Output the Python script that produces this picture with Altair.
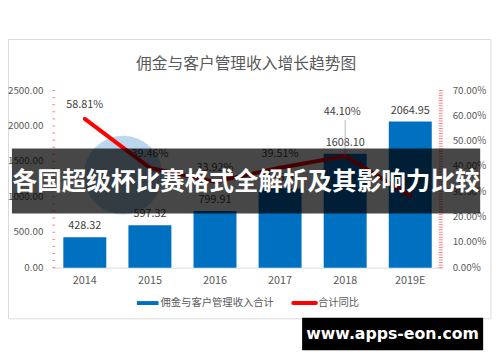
import altair as alt
import pandas as pd

# ---- data ----
years = ["2014", "2015", "2016", "2017", "2018", "2019E"]
revenue = [428.32, 597.32, 799.91, 1115.95, 1608.10, 2064.95]
growth = [0.5881, 0.3946, 0.3392, 0.3951, 0.4410, 0.2841]
left_labels = [0, 500, 1000, 1500, 2000, 2500]
left_minor = list(range(0, 2501, 100))
right_labels = [0, 0.1, 0.2, 0.3, 0.4, 0.5, 0.6, 0.7]
right_minor = [i / 100 for i in range(0, 71)]

title_text = "佣金与客户管理收入增长趋势图"
bar_name = "佣金与客户管理收入合计"
line_name = "合计同比"
banner_text = "各国超级杯比赛格式全解析及其影响力比较"
site_text = "www.apps-eon.com"

df = pd.DataFrame({"year": years, "revenue": revenue, "growth": growth})
df_lminor = pd.DataFrame({"revenue": left_minor})
df_rminor = pd.DataFrame({"growth": right_minor})
df_llab = pd.DataFrame({"revenue": left_labels})
df_rlab = pd.DataFrame({"growth": right_labels})
one = pd.DataFrame({"k": [0]})

FONT = "Noto Sans CJK SC"
GRAY = "#595959"
AXRED = "#FF8080"

x_enc = alt.X(
    "year:N", sort=years,
    scale=alt.Scale(paddingInner=0.34, paddingOuter=0.17),
    axis=alt.Axis(title=None, labelAngle=0, ticks=False, domainColor="#D9D9D9",
                  labelColor=GRAY, labelFontSize=11, labelPadding=7, labelFont=FONT),
)

left_axis = alt.Axis(
    title=None, orient="left", labels=False, ticks=False, grid=False,
    domainColor=AXRED,
)
right_axis = alt.Axis(
    title=None, orient="right", labels=False, ticks=False, grid=False,
    domainColor=AXRED,
)

base = alt.Chart(df)

bars = base.mark_bar(color="#0070C0").encode(
    x=x_enc,
    y=alt.Y("revenue:Q", scale=alt.Scale(domain=[0, 2500], nice=False), axis=left_axis),
)
bar_text = base.mark_text(dy=-11, fontSize=11, color="#404040", font=FONT, baseline="middle").encode(
    x=x_enc, y=alt.Y("revenue:Q", axis=None), text=alt.Text("revenue:Q", format=".2f")
)
lminor = alt.Chart(df_lminor).mark_rule(color=AXRED, strokeWidth=1).encode(
    y=alt.Y("revenue:Q", axis=None), x=alt.value(0), x2=alt.value(3)
)
llab = alt.Chart(df_llab).mark_text(fontSize=10, color=GRAY, font=FONT, align="right", baseline="middle").encode(
    y=alt.Y("revenue:Q", axis=None), x=alt.value(-9), text=alt.Text("revenue:Q", format=".2f")
)
layer_a = alt.layer(bars, bar_text, lminor, llab)

line = base.mark_line(color="#FF0000", strokeWidth=4, strokeCap="round").encode(
    x=x_enc,
    y=alt.Y("growth:Q", scale=alt.Scale(domain=[0, 0.7], nice=False), axis=right_axis),
)
leader = base.transform_filter("datum.year == '2018'").mark_rule(color="#A6A6A6", strokeWidth=0.8).encode(
    x=x_enc, y=alt.Y("growth:Q", axis=None), y2=alt.value(30)
)
line_text = base.transform_filter("datum.year != '2018'").mark_text(
    dy=-14, fontSize=11, color="#404040", font=FONT, baseline="middle"
).encode(x=x_enc, y=alt.Y("growth:Q", axis=None), text=alt.Text("growth:Q", format=".2%"))
line_text_2018 = base.transform_filter("datum.year == '2018'").mark_text(
    dy=-45, dx=-3, fontSize=11, color="#404040", font=FONT, baseline="middle"
).encode(x=x_enc, y=alt.Y("growth:Q", axis=None), text=alt.Text("growth:Q", format=".2%"))
rminor = alt.Chart(df_rminor).mark_rule(color=AXRED, strokeWidth=1).encode(
    y=alt.Y("growth:Q", axis=None), x=alt.value(393), x2=alt.value(397)
)
rlab = alt.Chart(df_rlab).mark_text(fontSize=10, color=GRAY, font=FONT, align="left", baseline="middle").encode(
    y=alt.Y("growth:Q", axis=None), x=alt.value(407), text=alt.Text("growth:Q", format=".2%")
)
layer_b = alt.layer(line, leader, line_text, line_text_2018, rminor, rlab)

deco = alt.Chart(one)
frame = deco.mark_rect(fillOpacity=0, stroke="#D9D9D9", strokeWidth=1).encode(
    x=alt.value(-44.5), x2=alt.value(446), y=alt.value(-52), y2=alt.value(232)
)
circle = deco.mark_circle(color="#2F80D0", opacity=0.32, size=6400).encode(
    x=alt.value(72), y=alt.value(86)
)
title = deco.mark_text(text=title_text, fontSize=16, color=GRAY, font=FONT, align="center", baseline="middle").encode(
    x=alt.value(197), y=alt.value(-27)
)
leg_bar = deco.mark_rect(color="#0070C0").encode(
    x=alt.value(86), x2=alt.value(108), y=alt.value(214), y2=alt.value(218)
)
leg_bar_txt = deco.mark_text(text=bar_name, fontSize=10.5, color=GRAY, font=FONT, align="left", baseline="middle").encode(
    x=alt.value(110), y=alt.value(216)
)
leg_line = deco.mark_rule(color="#FF0000", strokeWidth=4, strokeCap="round").encode(
    x=alt.value(245), x2=alt.value(268), y=alt.value(216)
)
leg_line_txt = deco.mark_text(text=line_name, fontSize=10.5, color=GRAY, font=FONT, align="left", baseline="middle").encode(
    x=alt.value(270), y=alt.value(216)
)
banner = deco.mark_rect(color="#000000", opacity=0.72).encode(
    x=alt.value(-41), x2=alt.value(435), y=alt.value(59), y2=alt.value(125)
)
banner_txt = deco.mark_text(text=banner_text, fontSize=25, fontWeight="bold", color="#FFFFFF", font=FONT,
                            align="center", baseline="middle").encode(
    x=alt.value(197), y=alt.value(93)
)
site_box = deco.mark_rect(color="#000000").encode(
    x=alt.value(254), x2=alt.value(438), y=alt.value(231), y2=alt.value(264)
)
site_txt = deco.mark_text(text=site_text, fontSize=16, fontWeight="bold", color="#FFFFFF", font="DejaVu Sans",
                          align="center", baseline="middle").encode(
    x=alt.value(346), y=alt.value(248)
)

chart = alt.layer(
    frame, circle, layer_a, layer_b, title, leg_bar, leg_bar_txt, leg_line, leg_line_txt,
    banner, banner_txt, site_box, site_txt,
).resolve_scale(y="independent").properties(
    width=397, height=180,
    autosize=alt.AutoSizeParams(type="none"),
    padding={"left": 45, "top": 81, "right": 50, "bottom": 93},
    background="#FFFFFF",
).configure_view(stroke=None)

chart.save("out.html", embed_options={"renderer": "svg", "actions": False})
